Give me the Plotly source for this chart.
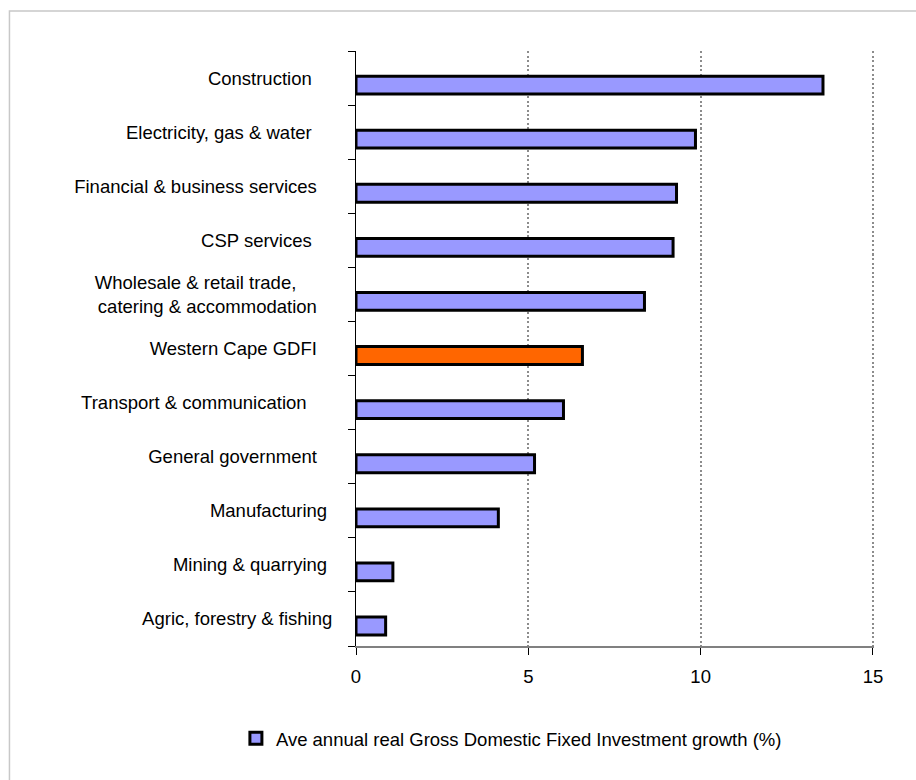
import plotly.graph_objects as go

# Sectors, listed top to bottom as drawn
sectors = [
    "Construction",
    "Electricity, gas & water",
    "Financial & business services",
    "CSP services",
    "Wholesale & retail trade,<br> catering & accommodation",
    "Western Cape GDFI",
    "Transport & communication",
    "General government",
    "Manufacturing",
    "Mining & quarrying",
    "Agric, forestry & fishing",
]

# Average annual real GDFI growth (%)
growth = [13.55, 9.85, 9.3, 9.2, 8.37, 6.57, 6.02, 5.18, 4.13, 1.07, 0.86]

series_name = "Ave annual real Gross Domestic Fixed Investment growth (%)"
highlight = "Western Cape GDFI"

x_ticks = [0, 5, 10, 15]

# ---- styling ----
FONT = "Liberation Sans, Arial, sans-serif"
FS = 18.5
BAR_FILL = "#9999ff"
HIGHLIGHT_FILL = "#ff6600"

# trailing padding (non-breaking spaces) for each sector label line
label_pad = {
    "Construction": [4],
    "Electricity, gas & water": [4],
    "Financial & business services": [3],
    "CSP services": [4],
    "Wholesale & retail trade,<br> catering & accommodation": [7, 3],
    "Western Cape GDFI": [3],
    "Transport & communication": [5],
    "General government": [3],
    "Manufacturing": [1],
    "Mining & quarrying": [1],
    "Agric, forestry & fishing": [0],
}


def padded(label):
    lines = label.split("<br>")
    pads = label_pad.get(label, [0] * len(lines))
    return "<br>".join(l + "\u00a0" * p for l, p in zip(lines, pads))


colors = [HIGHLIGHT_FILL if s == highlight else BAR_FILL for s in sectors]

fig = go.Figure(
    go.Bar(
        x=growth,
        y=sectors,
        orientation="h",
        name=series_name,
        marker=dict(color=colors, line=dict(color="black", width=3)),
        width=0.33,
        offset=-0.035,
        showlegend=True,
    )
)

fig.update_layout(
    width=916,
    height=780,
    margin=dict(l=356, r=42, t=51, b=134),
    paper_bgcolor="white",
    plot_bgcolor="white",
    font=dict(family=FONT, size=FS, color="black"),
    showlegend=True,
    legend=dict(
        orientation="h",
        x=0.30,
        xanchor="center",
        y=-0.156,
        yanchor="middle",
        font=dict(family=FONT, size=FS, color="black"),
        bgcolor="rgba(0,0,0,0)",
    ),
    xaxis=dict(
        range=[0, 15.03],
        tickvals=x_ticks,
        ticktext=[str(v) for v in x_ticks],
        showgrid=True,
        gridcolor="#8c8c8c",
        gridwidth=2,
        griddash="2px,2.5px",
        zeroline=False,
        showline=True,
        linecolor="#808080",
        linewidth=1.5,
        ticks="outside",
        ticklen=7,
        tickcolor="black",
        tickwidth=1,
        ticklabelstandoff=6,
        tickfont=dict(family=FONT, size=FS, color="black"),
        fixedrange=True,
    ),
    yaxis=dict(
        type="category",
        categoryorder="array",
        categoryarray=sectors,
        tickvals=sectors,
        ticktext=[padded(s) for s in sectors],
        range=[len(sectors) - 0.5, -0.5],
        tickson="boundaries",
        ticks="outside",
        ticklen=7,
        tickcolor="black",
        tickwidth=1,
        ticklabelstandoff=19,
        showgrid=False,
        showline=True,
        linecolor="black",
        linewidth=1,
        zeroline=False,
        tickfont=dict(family=FONT, size=FS, color="black"),
        fixedrange=True,
    ),
    shapes=[
        dict(
            type="rect",
            xref="paper",
            yref="paper",
            x0=-0.669,
            x1=1.3,
            y0=-0.5,
            y1=1.0672,
            line=dict(color="#c8c8c8", width=1.5),
            fillcolor="rgba(0,0,0,0)",
            layer="below",
        )
    ],
)

fig.write_html("out.html")
